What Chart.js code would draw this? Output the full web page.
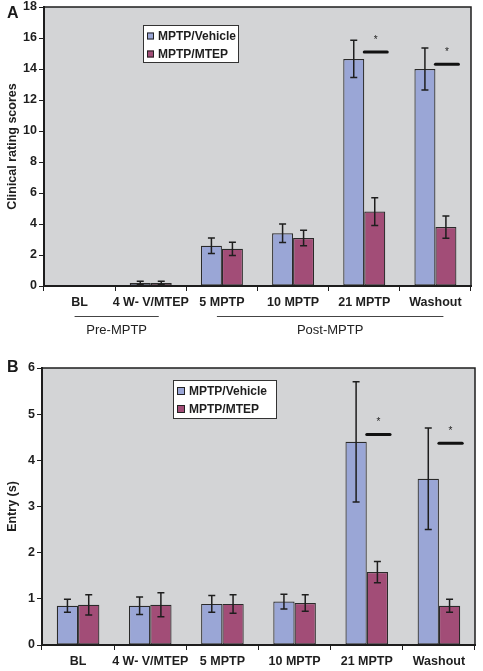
<!DOCTYPE html>
<html><head><meta charset="utf-8">
<script src="https://cdn.jsdelivr.net/npm/chart.js@4.4.0/dist/chart.umd.min.js"></script>
<style>
html,body{margin:0;padding:0;background:#fff;}
body{width:483px;height:671px;position:relative;overflow:hidden;font-family:"Liberation Sans",Arial,sans-serif;}
.wrap{position:absolute;left:0;width:483px;}
#wa{top:0;height:340px;}
#wb{top:340px;height:331px;}
.lab{position:absolute;left:7px;font-weight:bold;font-size:16px;line-height:16px;color:#1a1a1a;}
</style></head><body>
<div class="wrap" id="wa"><canvas id="ca" width="483" height="340"></canvas></div>
<div class="wrap" id="wb"><canvas id="cb" width="483" height="331"></canvas></div>
<div class="lab" style="top:5px">A</div>
<div class="lab" style="top:359px">B</div>
<script>
// ---- data ----
const categories = ['BL', '4 W- V/MTEP', '5 MPTP', '10 MPTP', '21 MPTP', 'Washout'];
const seriesNames = ['MPTP/Vehicle', 'MPTP/MTEP'];

const clinicalVehicle    = [0, 0.2, 2.6, 3.4, 14.65, 14.0];
const clinicalVehicleErr = [0, 0.1, 0.5, 0.6, 1.2, 1.35];
const clinicalMtep       = [0, 0.2, 2.4, 3.1, 4.8, 3.8];
const clinicalMtepErr    = [0, 0.1, 0.43, 0.5, 0.9, 0.72];
const clinicalSig        = [null, null, null, null, 15.1, 14.3];
const clinicalTicks      = [0, 2, 4, 6, 8, 10, 12, 14, 16, 18];

const entryVehicle    = [0.85, 0.85, 0.89, 0.94, 4.4, 3.6];
const entryVehicleErr = [0.14, 0.19, 0.18, 0.16, 1.3, 1.1];
const entryMtep       = [0.87, 0.87, 0.89, 0.91, 1.58, 0.85];
const entryMtepErr    = [0.22, 0.26, 0.2, 0.18, 0.23, 0.14];
const entrySig        = [null, null, null, null, 4.56, 4.37];
const entryTicks      = [0, 1, 2, 3, 4, 5, 6];

const groupLabels = ['Pre-MPTP', 'Post-MPTP'];
const groupFirst  = [0, 2];
const groupLast   = [1, 5];

// ---- styling ----
const FONT = '"Liberation Sans", Arial, sans-serif';
const INK = '#1e1e1e';
const BG = '#d3d4d6';
const COLORS = ['#9aa6d6', '#a24d77'];

const panelPlugin = {
  id: 'panel',
  beforeDraw(chart) {
    const { ctx, chartArea: a } = chart;
    ctx.save();
    ctx.fillStyle = BG;
    ctx.fillRect(a.left, a.top, a.right - a.left, a.bottom - a.top);
    ctx.restore();
  },
  afterDatasetsDraw(chart, args, opts) {
    const { ctx, chartArea: a } = chart;
    const ys = chart.scales.y;
    ctx.save();
    // error bars
    ctx.strokeStyle = INK; ctx.lineWidth = 1.5;
    chart.data.datasets.forEach((ds, i) => {
      const meta = chart.getDatasetMeta(i);
      meta.data.forEach((bar, j) => {
        const v = ds.data[j], e = ds.errors[j];
        if (!e) return;
        const yt = ys.getPixelForValue(v + e), yb = ys.getPixelForValue(v - e);
        const x = bar.x, c = 3.5;
        ctx.beginPath();
        ctx.moveTo(x, yt); ctx.lineTo(x, yb);
        ctx.moveTo(x - c, yt); ctx.lineTo(x + c, yt);
        ctx.moveTo(x - c, yb); ctx.lineTo(x + c, yb);
        ctx.stroke();
      });
    });
    // significance markers
    const meta1 = chart.getDatasetMeta(1);
    (opts.sig || []).forEach((s, j) => {
      if (s == null) return;
      const bar = meta1.data[j];
      const w = bar.width;
      const y = ys.getPixelForValue(s);
      const x0 = bar.x - w / 2, x1 = bar.x + w / 2 + 2;
      ctx.lineWidth = 3; ctx.lineCap = 'round'; ctx.strokeStyle = '#111';
      ctx.beginPath(); ctx.moveTo(x0, y); ctx.lineTo(x1, y); ctx.stroke();
      ctx.fillStyle = INK; ctx.font = '10px ' + FONT;
      ctx.textAlign = 'center'; ctx.textBaseline = 'middle';
      ctx.fillText('*', (x0 + x1) / 2, y - 12);
    });
    // frame
    ctx.lineCap = 'butt'; ctx.lineWidth = 1.5; ctx.strokeStyle = INK;
    ctx.strokeRect(a.left, a.top, a.right - a.left, a.bottom - a.top);
    // legend
    const L = opts.legend;
    const lx = a.left + L.dx, ly = a.top + L.dy;
    ctx.fillStyle = '#fff';
    ctx.fillRect(lx, ly, L.w, L.h);
    ctx.lineWidth = 1; ctx.strokeStyle = '#333';
    ctx.strokeRect(lx + 0.5, ly + 0.5, L.w, L.h);
    chart.data.datasets.forEach((ds, i) => {
      const cy = ly + L.row0 + i * L.rowGap;
      ctx.fillStyle = ds.backgroundColor;
      ctx.fillRect(lx + L.sw0, cy - L.sw / 2, L.sw, L.sw);
      ctx.strokeStyle = '#222'; ctx.lineWidth = 1;
      ctx.strokeRect(lx + L.sw0 + 0.5, cy - L.sw / 2 + 0.5, L.sw - 1, L.sw - 1);
      ctx.fillStyle = INK; ctx.font = 'bold 12px ' + FONT;
      ctx.textAlign = 'left'; ctx.textBaseline = 'middle';
      ctx.fillText(ds.label, lx + L.tx, cy + 0.5);
    });
    ctx.restore();
  },
  afterDraw(chart, args, opts) {
    if (!opts.groups) return;
    const { ctx, chartArea: a } = chart;
    const xs = chart.scales.x;
    ctx.save();
    groupLabels.forEach((g, k) => {
      const x0 = xs.getPixelForValue(groupFirst[k]) - 5;
      const x1 = xs.getPixelForValue(groupLast[k]) + 8;
      const y = a.bottom + 30.5;
      ctx.strokeStyle = '#444'; ctx.lineWidth = 1;
      ctx.beginPath(); ctx.moveTo(x0, y); ctx.lineTo(x1, y); ctx.stroke();
      ctx.fillStyle = '#222'; ctx.font = '13px ' + FONT;
      ctx.textAlign = 'center'; ctx.textBaseline = 'middle';
      ctx.fillText(g, (x0 + x1) / 2, a.bottom + 44);
    });
    ctx.restore();
  }
};

function makeChart(canvasId, vehicle, vehicleErr, mtep, mtepErr, ticks, yTitle, sig, cfg) {
  const tickFont = { family: FONT, size: 12.5, weight: 'bold' };
  const yTickFont = { family: FONT, size: 12.5, weight: 'bold', lineHeight: 0.8 };
  return new Chart(document.getElementById(canvasId), {
    type: 'bar',
    data: {
      labels: categories,
      datasets: [
        { label: seriesNames[0], data: vehicle, errors: vehicleErr, backgroundColor: COLORS[0] },
        { label: seriesNames[1], data: mtep, errors: mtepErr, backgroundColor: COLORS[1] }
      ].map(d => Object.assign(d, {
        borderColor: '#2a2a2a', borderWidth: 1.2, borderSkipped: false,
        barPercentage: 1, categoryPercentage: 0.59
      }))
    },
    options: {
      responsive: false, animation: false, devicePixelRatio: 1,
      layout: { padding: cfg.padding },
      plugins: {
        legend: { display: false }, tooltip: { enabled: false },
        panel: { sig: sig, legend: cfg.legend, groups: cfg.groups }
      },
      scales: {
        x: {
          ticks: { font: tickFont, color: INK, padding: 4, maxRotation: 0, minRotation: 0, autoSkip: false },
          grid: { offset: true, drawOnChartArea: false, tickLength: 5, color: INK },
          border: { color: INK, width: 2 },
          afterFit: s => { s.height = cfg.xHeight; }
        },
        y: {
          min: ticks[0], max: ticks[ticks.length - 1],
          afterBuildTicks: s => { s.ticks = ticks.map(v => ({ value: v })); },
          ticks: { font: yTickFont, color: INK, padding: 2 },
          grid: { drawOnChartArea: false, tickLength: 5, color: INK },
          border: { color: INK, width: 2 },
          title: { display: true, text: yTitle, font: tickFont, color: INK, padding: { top: 5, bottom: 0 } },
          afterFit: s => { s.width = cfg.yWidth; }
        }
      }
    },
    plugins: [panelPlugin]
  });
}

makeChart('ca', clinicalVehicle, clinicalVehicleErr, clinicalMtep, clinicalMtepErr,
  clinicalTicks, 'Clinical rating scores', clinicalSig, {
    padding: { left: 0, right: 12, top: 7, bottom: 0 }, yWidth: 44, xHeight: 54, groups: true,
    legend: { dx: 99, dy: 18, w: 95, h: 37, row0: 11, rowGap: 18, sw0: 4, sw: 7, tx: 15 }
  });

makeChart('cb', entryVehicle, entryVehicleErr, entryMtep, entryMtepErr,
  entryTicks, 'Entry (s)', entrySig, {
    padding: { left: 0, right: 8, top: 28, bottom: 0 }, yWidth: 42, xHeight: 26, groups: false,
    legend: { dx: 131, dy: 12, w: 103, h: 38, row0: 11, rowGap: 18, sw0: 4, sw: 8, tx: 16 }
  });
</script>
</body></html>
